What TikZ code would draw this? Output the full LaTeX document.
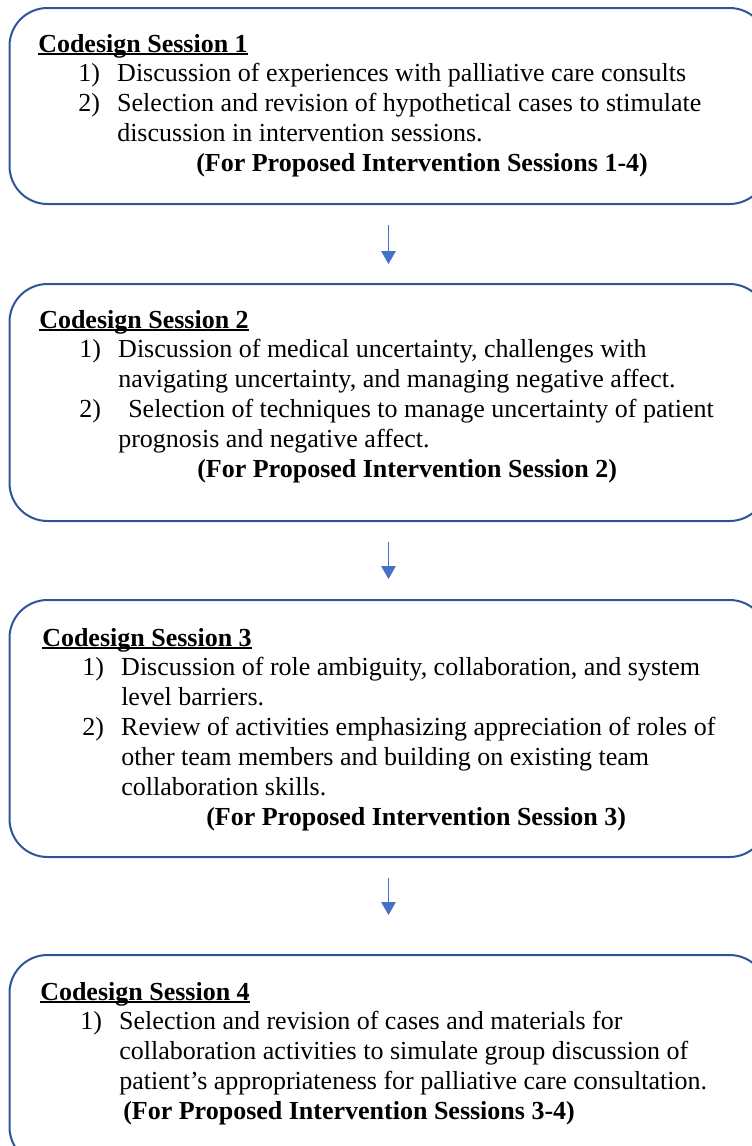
\documentclass[tikz,border=0pt]{standalone}
\usepackage{fontspec}
\setmainfont{Liberation Serif}
\usetikzlibrary{positioning,arrows.meta}
\definecolor{sessblue}{RGB}{47,85,151}
\definecolor{arrowblue}{RGB}{68,114,196}

\newcommand{\sessul}[1]{\sbox0{#1}\rlap{\rule[-2pt]{\wd0}{1.1pt}}\usebox0}
\newcommand{\sessitem}[2]{\hspace*{30pt}\makebox[29.25pt][l]{#1}#2}
\newcommand{\sesscont}[1]{\hspace*{59.25pt}#1}
\newcommand{\sessnote}[2]{\hspace*{#1}\textbf{#2}}
\newcommand{\sesslines}[1]{\parbox[t]{525pt}{\fontsize{19.5pt}{22.4pt}\selectfont\raggedright #1}}

\begin{document}
\begin{tikzpicture}[x=0.75pt, y=-0.75pt,
	sessbox/.style={rectangle, draw=sessblue, line width=1.5pt, rounded corners=28.5pt, minimum width=758*0.75pt},
	sesstext/.style={anchor=base west, inner sep=0pt},
	sessarrow/.style={arrowblue, line width=1pt, -{Triangle[width=10.9pt,length=9.75pt]}, shorten <=15pt}]
	\path[use as bounding box, clip] (0,0) rectangle (752,1146);

	\node[sessbox, minimum height=196*0.75pt] (S1) at (388.5,106) {};
	\node[sessbox, minimum height=237*0.75pt] (S2) at (388.5,402.5) {};
	\node[sessbox, minimum height=257*0.75pt] (S3) at (388.5,728.5) {};
	\node[sessbox, minimum height=210*0.75pt] (S4) at (388.5,1060) {};

	\node[sesstext] (T1) at (38,52) {\sesslines{%
		\textbf{\sessul{Codesign Session 1}}\\
		\sessitem{1)}{Discussion of experiences with palliative care consults}\\
		\sessitem{2)}{Selection and revision of hypothetical cases to stimulate}\\
		\sesscont{discussion in intervention sessions.}\\
		\sessnote{118.5pt}{(For Proposed Intervention Sessions 1-4)}}};

	\node[sesstext] (T2) at (39,328) {\sesslines{%
		\textbf{\sessul{Codesign Session 2}}\\
		\sessitem{1)}{Discussion of medical uncertainty, challenges with}\\
		\sesscont{navigating uncertainty, and managing negative affect.}\\
		\sessitem{2)}{\hspace*{7.5pt}Selection of techniques to manage uncertainty of patient}\\
		\sesscont{prognosis and negative affect.}\\
		\sessnote{118.5pt}{(For Proposed Intervention Session 2)}}};

	\node[sesstext] (T3) at (42,646) {\sesslines{%
		\textbf{\sessul{Codesign Session 3}}\\
		\sessitem{1)}{Discussion of role ambiguity, collaboration, and system}\\
		\sesscont{level barriers.}\\
		\sessitem{2)}{Review of activities emphasizing appreciation of roles of}\\
		\sesscont{other team members and building on existing team}\\
		\sesscont{collaboration skills.}\\
		\sessnote{123pt}{(For Proposed Intervention Session 3)}}};

	\node[sesstext] (T4) at (40,1000) {\sesslines{%
		\textbf{\sessul{Codesign Session 4}}\\
		\sessitem{1)}{Selection and revision of cases and materials for}\\
		\sesscont{collaboration activities to simulate group discussion of}\\
		\sesscont{patient’s appropriateness for palliative care consultation.}\\
		\sessnote{62.25pt}{(For Proposed Intervention Sessions 3-4)}}};

	% arrows between the sessions
	\draw[sessarrow, shorten >=14.25pt] (S1) -- (S2);
	\draw[sessarrow, shorten >=15pt] (S2) -- (S3);
	\draw[sessarrow, shorten >=29.25pt] (S3) -- (S4);
\end{tikzpicture}
\end{document}
